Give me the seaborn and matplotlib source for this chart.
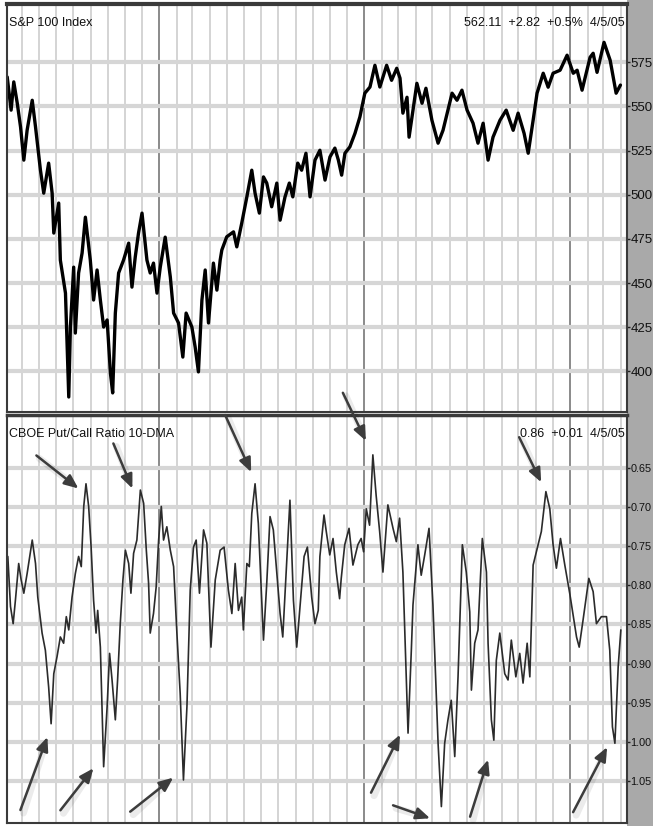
import numpy as np
import pandas as pd
import matplotlib
matplotlib.use("Agg")
import matplotlib.pyplot as plt
import matplotlib.dates as mdates
from matplotlib.patches import Rectangle
import seaborn as sns

# ---------------- data ----------------
# S&P 100 Index: time as decimal year, level
spx_time = [2002.259, 2002.278, 2002.291, 2002.308, 2002.324, 2002.340, 2002.356, 2002.381,
            2002.397, 2002.421, 2002.437, 2002.461, 2002.478, 2002.486, 2002.510, 2002.518,
            2002.543, 2002.559, 2002.567, 2002.583, 2002.591, 2002.607, 2002.624, 2002.640,
            2002.664, 2002.680, 2002.697, 2002.713, 2002.729, 2002.746, 2002.762, 2002.773,
            2002.786, 2002.802, 2002.826, 2002.851, 2002.867, 2002.883, 2002.899, 2002.916,
            2002.940, 2002.956, 2002.972, 2002.989, 2003.005, 2003.029, 2003.054, 2003.070,
            2003.094, 2003.115, 2003.131, 2003.159, 2003.175, 2003.191, 2003.208, 2003.224,
            2003.240, 2003.264, 2003.281, 2003.297, 2003.305, 2003.329, 2003.362, 2003.378,
            2003.402, 2003.427, 2003.451, 2003.467, 2003.488, 2003.508, 2003.524, 2003.548,
            2003.573, 2003.589, 2003.613, 2003.634, 2003.651, 2003.675, 2003.694, 2003.715,
            2003.735, 2003.759, 2003.783, 2003.808, 2003.832, 2003.856, 2003.873, 2003.889,
            2003.905, 2003.929, 2003.954, 2003.978, 2004.002, 2004.027, 2004.051, 2004.075,
            2004.108, 2004.132, 2004.157, 2004.173, 2004.187, 2004.207, 2004.217, 2004.255,
            2004.280, 2004.299, 2004.328, 2004.358, 2004.382, 2004.426, 2004.450, 2004.474,
            2004.499, 2004.528, 2004.552, 2004.577, 2004.601, 2004.625, 2004.659, 2004.689,
            2004.723, 2004.747, 2004.776, 2004.796, 2004.820, 2004.839, 2004.869, 2004.893,
            2004.917, 2004.951, 2004.985, 2005.015, 2005.034, 2005.058, 2005.097, 2005.112,
            2005.131, 2005.165, 2005.195, 2005.224, 2005.245]
spx_level = [566.7, 547.9, 563.9, 551.8, 538.4, 519.6, 536.5, 553.5,
             538.4, 513.9, 500.9, 517.9, 500.9, 478.3, 495.3, 463.0,
             444.3, 385.5, 425.1, 459.0, 421.7, 455.7, 467.0, 487.3,
             463.0, 440.4, 457.4, 440.4, 425.1, 429.1, 399.1, 387.8,
             433.0, 455.7, 463.0, 472.6, 447.7, 464.7, 478.3, 489.6,
             463.0, 455.7, 461.3, 444.3, 459.0, 476.0, 453.4, 433.0,
             427.4, 408.1, 433.0, 425.1, 413.8, 399.7, 440.4, 457.4,
             427.4, 461.3, 446.0, 463.0, 468.7, 476.2, 479.0, 470.5,
             483.9, 498.8, 513.9, 500.9, 489.6, 510.1, 506.6, 493.2,
             506.6, 485.6, 498.8, 506.6, 498.8, 517.9, 513.9, 523.5,
             498.8, 519.6, 525.2, 508.3, 521.4, 526.4, 519.6, 511.1,
             523.5, 527.1, 534.8, 544.1, 557.5, 561.0, 573.3, 561.0,
             573.3, 564.8, 571.6, 566.0, 546.2, 555.2, 532.6, 563.1,
             551.8, 560.3, 542.2, 529.2, 536.5, 557.5, 553.5, 559.2,
             547.9, 540.5, 529.2, 540.5, 519.6, 532.6, 542.2, 547.9,
             536.5, 546.2, 534.8, 523.5, 542.2, 557.5, 568.8, 560.9,
             568.8, 570.5, 579.0, 568.8, 570.5, 559.2, 577.8, 580.1,
             569.3, 586.3, 576.1, 557.5, 562.1]

# CBOE Put/Call ratio, 10-day moving average
pc_time = [2002.262, 2002.275, 2002.288, 2002.299, 2002.315, 2002.327, 2002.340, 2002.356,
           2002.381, 2002.397, 2002.408, 2002.429, 2002.445, 2002.461, 2002.473, 2002.486,
           2002.502, 2002.518, 2002.534, 2002.547, 2002.559, 2002.575, 2002.591, 2002.607,
           2002.620, 2002.632, 2002.643, 2002.656, 2002.668, 2002.680, 2002.692, 2002.700,
           2002.713, 2002.721, 2002.729, 2002.746, 2002.758, 2002.770, 2002.786, 2002.797,
           2002.810, 2002.823, 2002.835, 2002.851, 2002.862, 2002.875, 2002.891, 2002.908,
           2002.924, 2002.937, 2002.948, 2002.956, 2002.972, 2002.985, 2002.997, 2003.010,
           2003.021, 2003.037, 2003.054, 2003.070, 2003.086, 2003.102, 2003.118, 2003.135,
           2003.151, 2003.167, 2003.180, 2003.196, 2003.216, 2003.232, 2003.252, 2003.273,
           2003.297, 2003.316, 2003.337, 2003.354, 2003.370, 2003.386, 2003.402, 2003.410,
           2003.427, 2003.439, 2003.451, 2003.467, 2003.483, 2003.508, 2003.524, 2003.540,
           2003.556, 2003.573, 2003.589, 2003.602, 2003.618, 2003.637, 2003.654, 2003.670,
           2003.686, 2003.706, 2003.722, 2003.743, 2003.759, 2003.775, 2003.783, 2003.803,
           2003.814, 2003.831, 2003.847, 2003.863, 2003.879, 2003.887, 2003.904, 2003.925,
           2003.944, 2003.968, 2003.984, 2003.996, 2004.009, 2004.025, 2004.041, 2004.057,
           2004.074, 2004.090, 2004.114, 2004.139, 2004.155, 2004.171, 2004.187, 2004.212,
           2004.228, 2004.236, 2004.260, 2004.276, 2004.293, 2004.314, 2004.333, 2004.358,
           2004.374, 2004.390, 2004.406, 2004.422, 2004.439, 2004.455, 2004.476, 2004.495,
           2004.512, 2004.520, 2004.536, 2004.552, 2004.573, 2004.593, 2004.601, 2004.617,
           2004.629, 2004.641, 2004.658, 2004.682, 2004.698, 2004.714, 2004.736, 2004.755,
           2004.771, 2004.791, 2004.804, 2004.820, 2004.844, 2004.860, 2004.882, 2004.901,
           2004.917, 2004.933, 2004.953, 2004.974, 2004.999, 2005.031, 2005.044, 2005.063,
           2005.091, 2005.112, 2005.128, 2005.152, 2005.177, 2005.193, 2005.206, 2005.218,
           2005.234, 2005.247]
pc_ratio = [0.763, 0.827, 0.849, 0.819, 0.772, 0.793, 0.810, 0.785,
            0.742, 0.772, 0.815, 0.861, 0.883, 0.930, 0.977, 0.913,
            0.891, 0.866, 0.874, 0.840, 0.857, 0.815, 0.785, 0.763,
            0.776, 0.699, 0.670, 0.699, 0.751, 0.819, 0.861, 0.832,
            0.879, 0.955, 1.032, 0.955, 0.887, 0.921, 0.972, 0.921,
            0.849, 0.793, 0.755, 0.772, 0.810, 0.759, 0.742, 0.678,
            0.695, 0.755, 0.797, 0.861, 0.836, 0.802, 0.742, 0.699,
            0.742, 0.725, 0.755, 0.776, 0.861, 0.938, 1.049, 0.955,
            0.806, 0.751, 0.742, 0.810, 0.729, 0.746, 0.879, 0.793,
            0.755, 0.751, 0.806, 0.836, 0.772, 0.832, 0.815, 0.857,
            0.772, 0.776, 0.708, 0.670, 0.721, 0.870, 0.797, 0.712,
            0.729, 0.785, 0.836, 0.866, 0.785, 0.691, 0.819, 0.879,
            0.827, 0.763, 0.751, 0.815, 0.849, 0.832, 0.763, 0.710,
            0.731, 0.761, 0.740, 0.783, 0.817, 0.791, 0.748, 0.727,
            0.774, 0.748, 0.740, 0.757, 0.702, 0.723, 0.633, 0.685,
            0.731, 0.783, 0.697, 0.727, 0.744, 0.714, 0.783, 0.989,
            0.883, 0.825, 0.748, 0.787, 0.761, 0.727, 0.825, 1.002,
            1.083, 1.002, 0.972, 0.947, 1.019, 0.917, 0.748, 0.783,
            0.834, 0.934, 0.874, 0.857, 0.740, 0.783, 0.874, 0.972,
            0.998, 0.896, 0.861, 0.913, 0.921, 0.870, 0.917, 0.887,
            0.925, 0.874, 0.917, 0.774, 0.748, 0.731, 0.680, 0.702,
            0.748, 0.778, 0.740, 0.774, 0.812, 0.866, 0.879, 0.844,
            0.791, 0.808, 0.849, 0.840, 0.840, 0.883, 0.981, 1.002,
            0.904, 0.857]

spx_ticks = [400, 425, 450, 475, 500, 525, 550, 575]
spx_tick_labels = ["400", "425", "450", "475", "500", "525", "550", "575"]
pc_ticks = [0.65, 0.70, 0.75, 0.80, 0.85, 0.90, 0.95, 1.00, 1.05]
pc_tick_labels = ["0.65", "0.70", "0.75", "0.80", "0.85", "0.90", "0.95", "1.00", "1.05"]

spx_title = "S&P 100 Index"
spx_info = "562.11  +2.82  +0.5%  4/5/05"
pc_title = "CBOE Put/Call Ratio 10-DMA"
pc_info = "0.86  +0.01  4/5/05"

# arrow targets on the put/call panel (decimal year, ratio)
arrow_time = [2002.606, 2002.869, 2003.448, 2004.007, 2004.859,
              2002.455, 2002.679, 2003.068, 2004.173, 2004.319, 2004.601, 2005.180]
arrow_ratio = [0.676, 0.676, 0.655, 0.615, 0.668,
               0.994, 1.034, 1.046, 0.991, 1.098, 1.023, 1.007]

# ---------------- helpers ----------------
def to_date(t):
    y = int(np.floor(t))
    start = pd.Timestamp(y, 1, 1)
    end = pd.Timestamp(y + 1, 1, 1)
    return start + (end - start) * (t - y)

spx_df = pd.DataFrame({"date": [to_date(t) for t in spx_time], "level": spx_level})
pc_df = pd.DataFrame({"date": [to_date(t) for t in pc_time], "ratio": pc_ratio})

# ---------------- style ----------------
sns.set_theme(style="white")
FONT = ["Liberation Sans", "DejaVu Sans"]
plt.rcParams["font.family"] = FONT

W, H = 653, 826
fig = plt.figure(figsize=(W / 100, H / 100), dpi=100)
fig.patch.set_facecolor("white")

# gray strip behind right-side axis labels (drawn beneath the axes)
fig.patches.append(Rectangle((627 / W, 0), 1 - 627 / W, 1, transform=fig.transFigure,
                             facecolor="#a9a9a9", edgecolor="none", zorder=-5))

left = 7 / W
width = (627 - 7) / W
ax1 = fig.add_axes([left, 1 - 412 / H, width, 408 / H])
ax2 = fig.add_axes([left, 1 - 823 / H, width, 408 / H])

xmin = to_date(2002.258)
xmax = to_date(2005.277)

TXT = 9.0

def style_axes(ax, labelsize):
    ax.set_facecolor("white")
    ax.set_xlim(xmin, xmax)
    ax.xaxis.set_major_locator(mdates.YearLocator())
    ax.xaxis.set_minor_locator(mdates.MonthLocator())
    ax.grid(False)
    ax.grid(True, which="minor", axis="x", color="#c9c9c9", lw=1.1, zorder=0)
    ax.grid(True, which="major", axis="x", color="#8a8a8a", lw=1.4, zorder=0)
    ax.grid(True, which="major", axis="y", color="#d6d6d6", lw=3.0, zorder=0)
    ax.tick_params(axis="x", which="both", bottom=False, labelbottom=False, length=0)
    ax.yaxis.tick_right()
    ax.tick_params(axis="y", which="major", right=True, length=2, width=1,
                   color="#222222", pad=0.3, labelsize=labelsize, labelcolor="#111111")
    for s in ax.spines.values():
        s.set_color("#3a3a3a")
        s.set_linewidth(1.5)
    ax.set_xlabel("")
    ax.set_ylabel("")

# ---------------- top panel ----------------
sns.lineplot(data=spx_df, x="date", y="level", ax=ax1, color="black", lw=2.4,
             estimator=None, sort=False)
ax1.set_ylim(377, 608)
ax1.set_yticks(spx_ticks)
ax1.set_yticklabels(spx_tick_labels)
style_axes(ax1, 9.5)
ax1.spines["top"].set_linewidth(3)

ax1.text(0.003, 0.953, spx_title, transform=ax1.transAxes, ha="left", va="center",
         fontsize=TXT, color="#111111")
ax1.text(0.996, 0.953, spx_info, transform=ax1.transAxes, ha="right", va="center",
         fontsize=TXT, color="#111111")

# ---------------- bottom panel ----------------
sns.lineplot(data=pc_df, x="date", y="ratio", ax=ax2, color="#2b2b2b", lw=1.2,
             estimator=None, sort=False)
ax2.set_ylim(1.104, 0.582)
ax2.set_yticks(pc_ticks)
ax2.set_yticklabels(pc_tick_labels)
style_axes(ax2, 7.8)
ax2.spines["top"].set_linewidth(2.5)

ax2.text(0.003, 0.953, pc_title, transform=ax2.transAxes, ha="left", va="center",
         fontsize=TXT, color="#111111")
ax2.text(0.996, 0.953, pc_info, transform=ax2.transAxes, ha="right", va="center",
         fontsize=TXT, color="#111111")

# arrows: tail offsets in pixels relative to the arrow head
tail_offsets = [(-42, 33), (-19, 45), (-26, 57), (-23, 48), (-22, 45),
                (-27, -73), (-33, -42), (-43, -34), (-29, -58), (-37, 13), (-18, -57), (-34, -65)]
for t, r, (dx, dy) in zip(arrow_time, arrow_ratio, tail_offsets):
    head = (mdates.date2num(to_date(t)), r)
    # soft shadow
    ax2.annotate("", xy=head, xytext=(dx + 3, dy - 3), textcoords="offset pixels",
                 arrowprops=dict(arrowstyle="-", color="#000000", alpha=0.08, lw=5,
                                 shrinkA=0, shrinkB=6),
                 annotation_clip=False, zorder=5)
    ax2.annotate("", xy=head, xytext=(dx, dy), textcoords="offset pixels",
                 arrowprops=dict(arrowstyle="-|>,head_length=0.7,head_width=0.3",
                                 color="#3c3c3c", lw=1.8, shrinkA=0, shrinkB=0),
                 annotation_clip=False, zorder=6)

fig.savefig("out.png", dpi=100, facecolor=fig.get_facecolor())
